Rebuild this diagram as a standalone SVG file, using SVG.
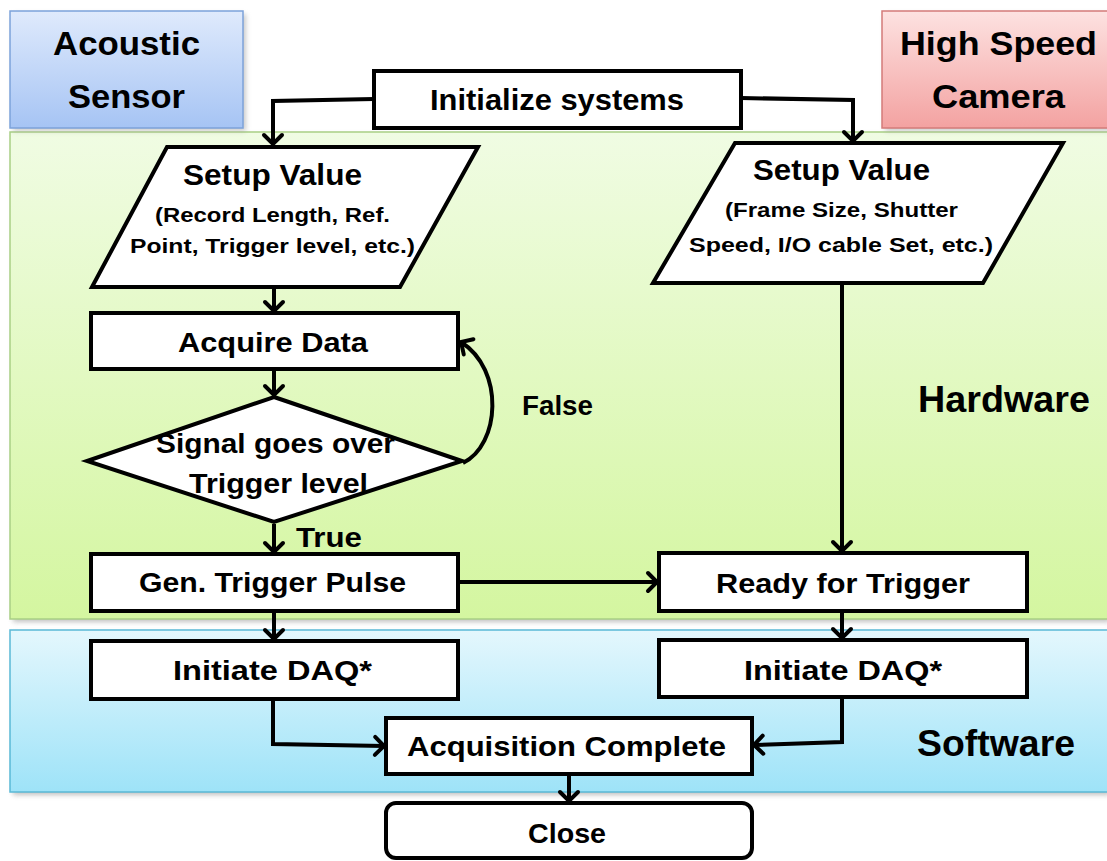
<svg xmlns="http://www.w3.org/2000/svg" width="1107" height="861" viewBox="0 0 1107 861">
<defs>
  <linearGradient id="gBlue" x1="0" y1="0" x2="0" y2="1"><stop offset="0" stop-color="#dfeafc"/><stop offset="1" stop-color="#a6c4f4"/></linearGradient>
  <linearGradient id="gPink" x1="0" y1="0" x2="0" y2="1"><stop offset="0" stop-color="#fde2e1"/><stop offset="1" stop-color="#f3a2a1"/></linearGradient>
  <linearGradient id="gGreen" x1="0" y1="0" x2="0" y2="1"><stop offset="0" stop-color="#f0fce3"/><stop offset="1" stop-color="#d4f6a0"/></linearGradient>
  <linearGradient id="gCyan" x1="0" y1="0" x2="0" y2="1"><stop offset="0" stop-color="#e4f7fd"/><stop offset="1" stop-color="#9ee3f8"/></linearGradient>
  <filter id="shadow" x="-5%" y="-5%" width="110%" height="115%"><feGaussianBlur stdDeviation="2.5"/></filter>
  <marker id="arr" markerUnits="userSpaceOnUse" markerWidth="24" markerHeight="24" refX="12" refY="12" orient="auto">
    <path d="M3,3 L12,12 L3,21" fill="none" stroke="#000" stroke-width="4" stroke-linecap="round" stroke-linejoin="miter"/>
  </marker>
</defs>
<style>
  .t{font-family:"Liberation Sans",Arial,sans-serif;font-weight:bold;fill:#000;}
  .box{fill:#fff;stroke:#000;stroke-width:4;}
  .c{fill:none;stroke:#000;stroke-width:4;}
</style>

<g id="bands">
  <rect x="13" y="135" width="1097" height="487" fill="#999" opacity="0.6" filter="url(#shadow)"/>
  <rect x="10" y="132" width="1100" height="487" fill="url(#gGreen)" stroke="#a9cf85" stroke-width="1.5"/>
  <rect x="13" y="633" width="1097" height="162" fill="#999" opacity="0.6" filter="url(#shadow)"/>
  <rect x="10" y="630" width="1100" height="162" fill="url(#gCyan)" stroke="#5ab9d6" stroke-width="1.5"/>
  <text class="t" x="918" y="412" font-size="37" textLength="172" lengthAdjust="spacingAndGlyphs">Hardware</text>
  <text class="t" x="917" y="756" font-size="37" textLength="158" lengthAdjust="spacingAndGlyphs">Software</text>
</g>

<g id="acoustic">
  <rect x="13" y="14" width="233" height="117" fill="#999" opacity="0.5" filter="url(#shadow)"/>
  <rect x="10" y="11" width="233" height="117" fill="url(#gBlue)" stroke="#7ca2da" stroke-width="1.5"/>
  <text class="t" x="53" y="55" font-size="33" textLength="147" lengthAdjust="spacingAndGlyphs">Acoustic</text>
  <text class="t" x="68" y="108" font-size="33" textLength="117" lengthAdjust="spacingAndGlyphs">Sensor</text>
</g>

<g id="camera">
  <rect x="885" y="14" width="230" height="117" fill="#999" opacity="0.5" filter="url(#shadow)"/>
  <rect x="882" y="11" width="230" height="117" fill="url(#gPink)" stroke="#d47b7a" stroke-width="1.5"/>
  <text class="t" x="900" y="55" font-size="33" textLength="197" lengthAdjust="spacingAndGlyphs">High Speed</text>
  <text class="t" x="932" y="108" font-size="33" textLength="133" lengthAdjust="spacingAndGlyphs">Camera</text>
</g>

<g id="connectors">
  <path class="c" d="M374,99 L273,101 L273,144" marker-end="url(#arr)"/>
  <path class="c" d="M741,98 L853,100 L853,141" marker-end="url(#arr)"/>
  <path class="c" d="M274,289 L274,311" marker-end="url(#arr)"/>
  <path class="c" d="M274,371 L274,395" marker-end="url(#arr)"/>
  <path class="c" d="M274,524 L274,552" marker-end="url(#arr)"/>
  <path class="c" d="M463,463 C500,445 505,370 461,342" marker-end="url(#arr)"/>
  <path class="c" d="M458,582 L657,582" marker-end="url(#arr)"/>
  <path class="c" d="M842,285 L842,551" marker-end="url(#arr)"/>
  <path class="c" d="M274,613 L274,639" marker-end="url(#arr)"/>
  <path class="c" d="M842,613 L842,638" marker-end="url(#arr)"/>
  <path class="c" d="M273,701 L273,744 L384,746" marker-end="url(#arr)"/>
  <path class="c" d="M842,699 L842,742 L754,745" marker-end="url(#arr)"/>
  <path class="c" d="M569,776 L569,801" marker-end="url(#arr)"/>
  <text class="t" x="296" y="547" font-size="27" textLength="66" lengthAdjust="spacingAndGlyphs">True</text>
  <text class="t" x="522" y="415" font-size="27" textLength="71" lengthAdjust="spacingAndGlyphs">False</text>
</g>

<g id="init">
  <rect class="box" x="374" y="71" width="367" height="57"/>
  <text class="t" x="430" y="110" font-size="30" textLength="254" lengthAdjust="spacingAndGlyphs">Initialize systems</text>
</g>

<g id="setupLeft">
  <polygon class="box" points="167,147 478,147 400,287 92,287"/>
  <text class="t" x="183" y="185" font-size="29" textLength="179" lengthAdjust="spacingAndGlyphs">Setup Value</text>
  <text class="t" x="155" y="222" font-size="21" textLength="235" lengthAdjust="spacingAndGlyphs">(Record Length, Ref.</text>
  <text class="t" x="130" y="253" font-size="21" textLength="285" lengthAdjust="spacingAndGlyphs">Point, Trigger level, etc.)</text>
</g>

<g id="setupRight">
  <polygon class="box" points="735,143 1063,143 983,283 653,283"/>
  <text class="t" x="753" y="180" font-size="29" textLength="177" lengthAdjust="spacingAndGlyphs">Setup Value</text>
  <text class="t" x="725" y="217" font-size="21" textLength="233" lengthAdjust="spacingAndGlyphs">(Frame Size, Shutter</text>
  <text class="t" x="689" y="252" font-size="21" textLength="304" lengthAdjust="spacingAndGlyphs">Speed, I/O cable Set, etc.)</text>
</g>

<g id="acquire">
  <rect class="box" x="91" y="313" width="367" height="56"/>
  <text class="t" x="178" y="352" font-size="28" textLength="190" lengthAdjust="spacingAndGlyphs">Acquire Data</text>
</g>

<g id="decision">
  <polygon class="box" points="274,397 462,461 274,522 87,461"/>
  <text class="t" x="156" y="453" font-size="28" textLength="239" lengthAdjust="spacingAndGlyphs">Signal goes over</text>
  <text class="t" x="189" y="493" font-size="28" textLength="179" lengthAdjust="spacingAndGlyphs">Trigger level</text>
</g>

<g id="genPulse">
  <rect class="box" x="91" y="554" width="367" height="57"/>
  <text class="t" x="139" y="592" font-size="28" textLength="267" lengthAdjust="spacingAndGlyphs">Gen. Trigger Pulse</text>
</g>

<g id="ready">
  <rect class="box" x="659" y="553" width="368" height="58"/>
  <text class="t" x="716" y="593" font-size="28" textLength="254" lengthAdjust="spacingAndGlyphs">Ready for Trigger</text>
</g>

<g id="daqLeft">
  <rect class="box" x="91" y="641" width="367" height="58"/>
  <text class="t" x="173" y="680" font-size="28" textLength="199" lengthAdjust="spacingAndGlyphs">Initiate DAQ*</text>
</g>

<g id="daqRight">
  <rect class="box" x="659" y="640" width="368" height="57"/>
  <text class="t" x="744" y="680" font-size="28" textLength="198" lengthAdjust="spacingAndGlyphs">Initiate DAQ*</text>
</g>

<g id="complete">
  <rect class="box" x="386" y="718" width="366" height="56"/>
  <text class="t" x="407" y="756" font-size="28" textLength="319" lengthAdjust="spacingAndGlyphs">Acquisition Complete</text>
</g>

<g id="close">
  <rect class="box" x="386" y="803" width="366" height="55" rx="10" ry="10"/>
  <text class="t" x="528" y="843" font-size="28" textLength="78" lengthAdjust="spacingAndGlyphs">Close</text>
</g>
</svg>
